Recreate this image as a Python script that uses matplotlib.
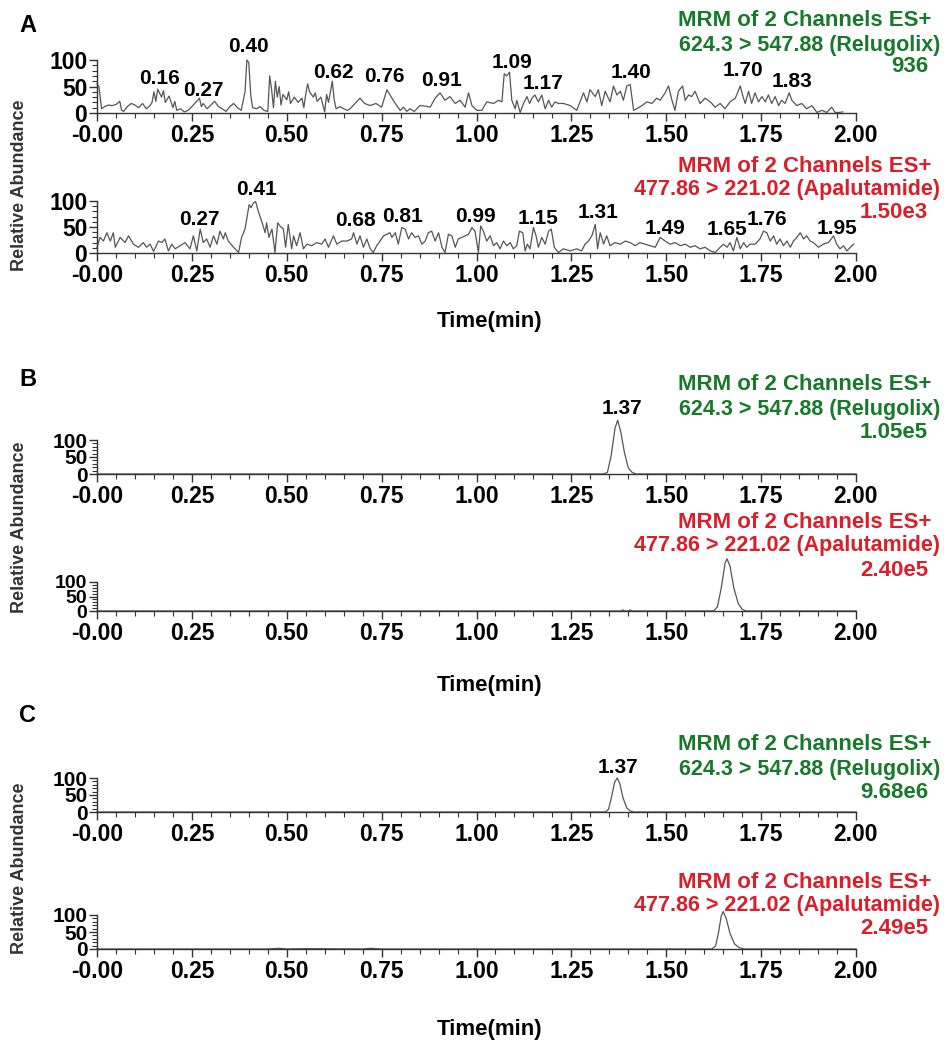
import matplotlib
matplotlib.use("Agg")
import matplotlib.pyplot as plt
from matplotlib.ticker import FixedLocator, MultipleLocator

plt.rcParams['font.family'] = ['Liberation Sans', 'DejaVu Sans']

# ---------------- data ----------------
# Panel A, blank plasma, Relugolix channel (624.3 > 547.88)
a_rel_t = [0.000, 0.005, 0.012, 0.020, 0.030, 0.040, 0.050, 0.060, 0.065, 0.070, 0.080, 0.090,
           0.100, 0.110, 0.120, 0.130, 0.140, 0.145, 0.150, 0.155, 0.160, 0.170, 0.175, 0.180,
           0.190, 0.200, 0.205, 0.210, 0.220, 0.230, 0.240, 0.250, 0.260, 0.270, 0.275, 0.280,
           0.290, 0.300, 0.310, 0.320, 0.330, 0.340, 0.350, 0.360, 0.370, 0.380, 0.390, 0.395,
           0.400, 0.405, 0.410, 0.420, 0.430, 0.440, 0.450, 0.455, 0.460, 0.465, 0.470, 0.475,
           0.480, 0.485, 0.490, 0.500, 0.505, 0.510, 0.520, 0.530, 0.540, 0.545, 0.550, 0.555,
           0.560, 0.570, 0.575, 0.580, 0.590, 0.600, 0.605, 0.610, 0.620, 0.625, 0.630, 0.640,
           0.650, 0.660, 0.667, 0.693, 0.705, 0.720, 0.735, 0.750, 0.764, 0.772, 0.786, 0.799,
           0.808, 0.816, 0.825, 0.836, 0.851, 0.865, 0.878, 0.891, 0.904, 0.917, 0.930, 0.944,
           0.957, 0.970, 0.979, 0.988, 1.001, 1.014, 1.027, 1.045, 1.058, 1.067, 1.073, 1.080,
           1.087, 1.093, 1.102, 1.106, 1.115, 1.124, 1.133, 1.140, 1.146, 1.154, 1.163, 1.172,
           1.181, 1.190, 1.198, 1.207, 1.216, 1.229, 1.247, 1.264, 1.282, 1.291, 1.299, 1.313,
           1.321, 1.330, 1.339, 1.352, 1.361, 1.370, 1.379, 1.387, 1.396, 1.405, 1.414, 1.422,
           1.436, 1.449, 1.462, 1.475, 1.484, 1.497, 1.506, 1.515, 1.523, 1.532, 1.543, 1.550,
           1.559, 1.567, 1.576, 1.589, 1.602, 1.616, 1.629, 1.642, 1.655, 1.668, 1.682, 1.695,
           1.701, 1.708, 1.717, 1.725, 1.734, 1.743, 1.752, 1.761, 1.769, 1.778, 1.787, 1.796,
           1.804, 1.813, 1.824, 1.831, 1.844, 1.857, 1.870, 1.884, 1.897, 1.910, 1.923, 1.936,
           1.945, 1.954, 1.965]
a_rel_v = [55, 50, 8, 12, 15, 14, 16, 22, 5, 3, 12, 18,
           15, 10, 18, 8, 14, 20, 40, 22, 45, 30, 42, 20,
           32, 10, 22, 5, 8, 2, 5, 12, 20, 28, 12, 18,
           8, 15, 22, 12, 8, 3, 12, 18, 10, 5, 40, 100,
           95, 35, 10, 8, 12, 5, 3, 70, 45, 10, 60, 30,
           50, 15, 35, 25, 40, 18, 30, 20, 28, 10, 35, 55,
           40, 30, 38, 22, 30, 2, 35, 20, 60, 25, 8, 12,
           8, 5, 8, 28, 18, 14, 18, 11, 44, 34, 18, 5,
           11, 3, 8, 3, 14, 13, 11, 28, 38, 24, 31, 18,
           24, 11, 38, 14, 5, 5, 21, 18, 24, 21, 74, 70,
           77, 24, 8, 24, 1, 18, 31, 18, 28, 34, 21, 34,
           8, 24, 11, 21, 18, 18, 14, 5, 38, 21, 44, 31,
           44, 14, 41, 21, 51, 34, 41, 24, 51, 54, 5, 8,
           14, 21, 18, 28, 24, 38, 51, 24, 5, 41, 51, 24,
           34, 31, 41, 18, 28, 21, 11, 18, 8, 21, 28, 51,
           34, 18, 41, 18, 38, 21, 31, 21, 34, 18, 31, 14,
           24, 18, 38, 24, 14, 18, 8, 14, 1, 5, 1, 11,
           1, 1, 2]

# Panel A, blank plasma, Apalutamide channel (477.86 > 221.02)
a_apa_t = [0.000, 0.008, 0.017, 0.026, 0.035, 0.043, 0.048, 0.061, 0.074, 0.083, 0.096, 0.109,
           0.122, 0.131, 0.140, 0.149, 0.162, 0.171, 0.179, 0.188, 0.197, 0.206, 0.219, 0.232,
           0.245, 0.254, 0.263, 0.272, 0.280, 0.289, 0.298, 0.307, 0.316, 0.324, 0.333, 0.338,
           0.346, 0.360, 0.373, 0.381, 0.390, 0.401, 0.406, 0.412, 0.418, 0.425, 0.434, 0.443,
           0.447, 0.453, 0.461, 0.469, 0.476, 0.482, 0.491, 0.497, 0.504, 0.513, 0.518, 0.526,
           0.535, 0.544, 0.553, 0.566, 0.579, 0.592, 0.601, 0.610, 0.623, 0.632, 0.645, 0.658,
           0.671, 0.676, 0.685, 0.693, 0.702, 0.711, 0.720, 0.728, 0.737, 0.746, 0.755, 0.764,
           0.772, 0.777, 0.786, 0.794, 0.803, 0.812, 0.821, 0.829, 0.838, 0.847, 0.856, 0.865,
           0.873, 0.882, 0.891, 0.900, 0.909, 0.917, 0.926, 0.935, 0.944, 0.952, 0.961, 0.970,
           0.979, 0.988, 0.996, 1.005, 1.011, 1.018, 1.027, 1.036, 1.045, 1.053, 1.062, 1.071,
           1.080, 1.089, 1.097, 1.106, 1.113, 1.122, 1.128, 1.134, 1.141, 1.150, 1.157, 1.163,
           1.172, 1.181, 1.190, 1.197, 1.205, 1.216, 1.229, 1.247, 1.264, 1.277, 1.286, 1.295,
           1.304, 1.313, 1.319, 1.326, 1.335, 1.343, 1.352, 1.365, 1.379, 1.392, 1.405, 1.418,
           1.431, 1.444, 1.458, 1.471, 1.484, 1.497, 1.510, 1.523, 1.537, 1.550, 1.563, 1.576,
           1.589, 1.602, 1.616, 1.629, 1.642, 1.651, 1.660, 1.668, 1.677, 1.686, 1.695, 1.704,
           1.712, 1.721, 1.734, 1.747, 1.756, 1.765, 1.774, 1.783, 1.791, 1.800, 1.809, 1.818,
           1.827, 1.835, 1.844, 1.853, 1.862, 1.870, 1.879, 1.888, 1.901, 1.914, 1.927, 1.941,
           1.949, 1.958, 1.967, 1.976, 1.985, 1.994]
a_apa_v = [11, 30, 23, 39, 23, 39, 11, 30, 20, 33, 17, 11,
           20, 11, 17, 3, 23, 20, 27, 4, 17, 8, 14, 20,
           8, 33, 4, 46, 20, 27, 11, 33, 17, 42, 27, 39,
           23, 11, 1, 30, 46, 93, 87, 96, 99, 80, 61, 39,
           58, 30, 46, 1, 58, 52, 46, 11, 55, 8, 33, 14,
           39, 8, 17, 14, 20, 17, 27, 11, 33, 17, 23, 23,
           27, 39, 17, 33, 11, 27, 8, 1, 14, 23, 33, 36,
           39, 30, 39, 17, 49, 46, 27, 39, 30, 33, 17, 23,
           39, 42, 23, 39, 11, 1, 36, 33, 11, 27, 30, 33,
           36, 49, 42, 1, 52, 42, 23, 33, 14, 20, 8, 23,
           14, 20, 8, 14, 42, 39, 4, 17, 8, 49, 33, 11,
           30, 17, 42, 46, 11, 1, 8, 4, 8, 4, 17, 23,
           33, 55, 8, 39, 17, 33, 14, 20, 17, 23, 20, 14,
           20, 17, 14, 11, 30, 23, 17, 20, 14, 17, 11, 14,
           8, 11, 4, 1, 11, 17, 11, 20, 4, 30, 8, 20,
           11, 17, 17, 27, 42, 39, 23, 33, 17, 27, 14, 23,
           11, 23, 30, 39, 27, 33, 23, 20, 11, 17, 20, 33,
           17, 8, 14, 4, 11, 17]

# Panels B and C: values as read against the printed y axis of each trace
b_rel_t = [0.00, 1.335, 1.345, 1.355, 1.365, 1.372, 1.380, 1.390, 1.400, 1.410, 1.420, 2.00]
b_rel_v = [0, 0, 5, 55, 135, 158, 125, 62, 18, 5, 0, 0]
b_apa_t = [0.00, 1.380, 1.385, 1.390, 1.400, 1.405, 1.410, 1.625, 1.635, 1.645, 1.655, 1.660,
           1.668, 1.678, 1.690, 1.700, 1.710, 2.00]
b_apa_v = [0, 0, 4, 0, 0, 4, 0, 0, 15, 80, 165, 180, 155, 80, 25, 6, 0, 0]

c_rel_t = [0.00, 1.340, 1.348, 1.356, 1.364, 1.371, 1.378, 1.386, 1.396, 1.405, 1.415, 2.00]
c_rel_v = [0, 0, 8, 45, 88, 100, 82, 42, 12, 3, 0, 0]
c_apa_t = [0.00, 0.45, 0.48, 0.50, 0.55, 0.70, 0.72, 0.75, 1.00, 1.620, 1.630, 1.638, 1.645,
           1.650, 1.658, 1.668, 1.680, 1.692, 1.705, 2.00]
c_apa_v = [0, 0, 2, 0, 1, 0, 2, 0, 0, 0, 9, 50, 98, 110, 90, 46, 15, 4, 0, 0]

# peak apex labels (text, label x, label y)
a_rel_labels = [('0.16', 0.166, 66), ('0.27', 0.279, 43), ('0.40', 0.398, 125), ('0.62', 0.624, 77),
                ('0.76', 0.756, 68), ('0.91', 0.909, 62), ('1.09', 1.094, 96), ('1.17', 1.175, 56),
                ('1.40', 1.408, 77), ('1.70', 1.702, 80), ('1.83', 1.832, 60)]
a_apa_labels = [('0.27', 0.271, 65), ('0.41', 0.421, 123), ('0.68', 0.680, 62), ('0.81', 0.806, 71),
                ('0.99', 0.996, 71), ('1.15', 1.162, 67), ('1.31', 1.320, 77), ('1.49', 1.497, 48),
                ('1.65', 1.660, 46), ('1.76', 1.765, 65), ('1.95', 1.950, 48)]
b_rel_labels = [('1.37', 1.383, 192)]
c_rel_labels = [('1.37', 1.372, 130)]

rel_header = ['MRM of 2 Channels ES+', '624.3 > 547.88 (Relugolix)']
apa_header = ['MRM of 2 Channels ES+', '477.86 > 221.02 (Apalutamide)']
intensities = ['936', '1.50e3', '1.05e5', '2.40e5', '9.68e6', '2.49e5']

x_ticks = [0.0, 0.25, 0.5, 0.75, 1.0, 1.25, 1.5, 1.75, 2.0]
x_tick_labels = ['-0.00', '0.25', '0.50', '0.75', '1.00', '1.25', '1.50', '1.75', '2.00']

# ---------------- figure ----------------
W, H = 944, 1048
GREEN = '#18782c'
RED = '#d81f2a'
TRACE = '#555555'

fig = plt.figure(figsize=(W / 100, H / 100), dpi=100)


def chrom(t, v, y_zero, y_top, labels, header, intensity, colour, head_y, ysize=16.5):
    # y_zero / y_top: pixel rows of the 0 and 100 ticks
    ax = fig.add_axes([97 / W, 1 - y_zero / H, 759 / W, (y_zero - y_top) / H])
    ax.plot(t, v, color=TRACE, lw=0.9, clip_on=False)
    ax.set_xlim(0, 2.0)
    ax.set_ylim(0, 100)
    for s in ['top', 'right']:
        ax.spines[s].set_visible(False)
    for s in ['left', 'bottom']:
        ax.spines[s].set_linewidth(1.0)
        ax.spines[s].set_color('#333333')
    ax.xaxis.set_major_locator(FixedLocator(x_ticks))
    ax.set_xticklabels(x_tick_labels)
    ax.xaxis.set_minor_locator(MultipleLocator(0.05))
    ax.yaxis.set_major_locator(FixedLocator([0, 50, 100]))
    ax.yaxis.set_minor_locator(MultipleLocator(10))
    ax.tick_params(axis='both', which='major', length=6, width=1.0, color='#333333', pad=1)
    ax.tick_params(axis='x', labelsize=16.5, pad=2)
    ax.tick_params(axis='y', labelsize=ysize)
    ax.tick_params(axis='both', which='minor', length=3.5, width=0.8, color='#333333')
    for lab in ax.get_xticklabels() + ax.get_yticklabels():
        lab.set_fontweight('bold')
    for txt, lx, ly in labels:
        ax.text(lx, ly, txt, ha='center', va='center', fontsize=15, fontweight='bold',
                clip_on=False)
    y1, y2, y3 = head_y
    fig.text(931 / W, 1 - y1 / H, header[0], ha='right', va='center',
             fontsize=16, fontweight='bold', color=colour)
    fig.text(940 / W, 1 - y2 / H, header[1], ha='right', va='center',
             fontsize=15.5, fontweight='bold', color=colour)
    fig.text(928 / W, 1 - y3 / H, intensity, ha='right', va='center',
             fontsize=16, fontweight='bold', color=colour)
    return ax


chrom(a_rel_t, a_rel_v, 113, 60, a_rel_labels, rel_header, intensities[0], GREEN, (21, 45, 66))
chrom(a_apa_t, a_apa_v, 253, 201, a_apa_labels, apa_header, intensities[1], RED, (166, 190, 213))
chrom(b_rel_t, b_rel_v, 474, 440, b_rel_labels, rel_header, intensities[2], GREEN,
      (385, 409, 432), ysize=15)
chrom(b_apa_t, b_apa_v, 611, 582, [], apa_header, intensities[3], RED,
      (522, 546, 570), ysize=14)
chrom(c_rel_t, c_rel_v, 812, 778, c_rel_labels, rel_header, intensities[4], GREEN,
      (745, 769, 792), ysize=15)
chrom(c_apa_t, c_apa_v, 949, 915, [], apa_header, intensities[5], RED,
      (882, 906, 929), ysize=15)

for letter, y in [('A', 25), ('B', 380), ('C', 716)]:
    fig.text(28 / W, 1 - y / H, letter, ha='center', va='center', fontsize=17, fontweight='bold')
for y in [185, 527, 868]:
    fig.text(20 / W, 1 - y / H, 'Relative Abundance', rotation=90, ha='center', va='center',
             fontsize=13, fontweight='bold', color='#333333')
for y in [321, 685, 1030]:
    fig.text(490 / W, 1 - y / H, 'Time(min)', ha='center', va='center', fontsize=16,
             fontweight='bold')

fig.savefig('out.png', dpi=100)
